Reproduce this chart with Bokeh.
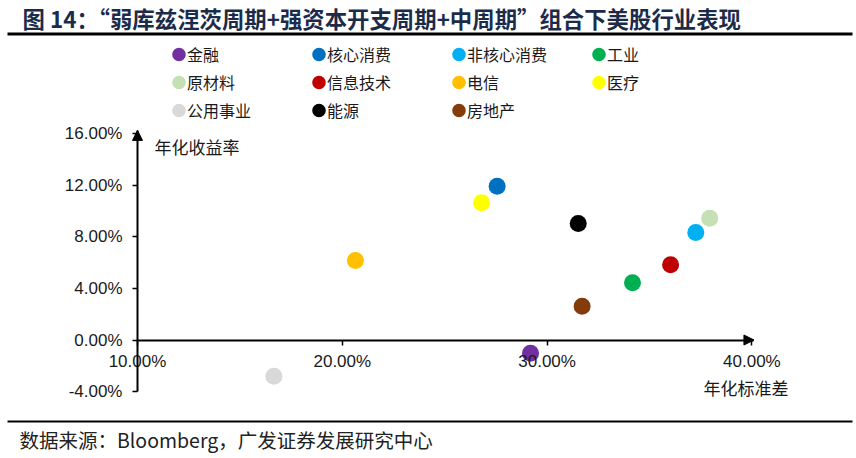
from bokeh.plotting import figure
from bokeh.models import (Legend, LegendItem, Label, BoxAnnotation, Arrow, NormalHead,
                          FixedTicker, PrintfTickFormatter, ColumnDataSource, Range1d)
from bokeh.embed import file_html
from bokeh.resources import INLINE

# ---------------- data ----------------
sectors = ["金融", "核心消费", "非核心消费", "工业", "原材料", "信息技术",
           "电信", "医疗", "公用事业", "能源", "房地产"]
vol = [29.19, 27.56, 37.26, 34.17, 37.94, 36.03, 20.64, 26.80, 16.66, 31.52, 31.71]   # 年化标准差 (%)
ret = [-1.02, 11.92, 8.33, 4.43, 9.44, 5.83, 6.16, 10.64, -2.81, 9.03, 2.62]          # 年化收益率 (%)
colors = ["#7030A0", "#0070C0", "#00B0F0", "#00B050", "#C5E0B4", "#C00000",
          "#FFC000", "#FFFF00", "#D9D9D9", "#000000", "#843C0C"]
x_ticks = [10, 20, 30, 40]
y_ticks = [-4, 0, 4, 8, 12, 16]

title_text = "图 14：“弱库兹涅茨周期+强资本开支周期+中周期”组合下美股行业表现"
source_text = "数据来源：Bloomberg，广发证券发展研究中心"
x_title = "年化标准差"
y_title = "年化收益率"

# ---------------- layout helpers (pixel -> data) ----------------
W, H = 856, 458
PX_X10, PPX = 137.0, 20.48     # pixel of x=10%, pixels per 1% in x
PX_Y0, PPY = 339.5, 12.9       # pixel of y=0%, pixels per 1% in y


def dx(px):
    return x_ticks[0] + (px - PX_X10) / PPX


def dy(py):
    return (PX_Y0 - py) / PPY


X_END = 40.1
Y_END = 16.25

p = figure(output_backend="svg", toolbar_location=None, width=W, height=H,
           min_border=0, min_border_left=0, min_border_right=0,
           min_border_top=0, min_border_bottom=0,
           x_range=Range1d(dx(0), dx(W)), y_range=Range1d(dy(H), dy(0)),
           background_fill_color="white", border_fill_color="white")
p.outline_line_color = None
p.grid.visible = False

CJK = "Noto Sans CJK SC"
LAT = "Liberation Sans"

for ax in (p.xaxis[0], p.yaxis[0]):
    ax.axis_line_width = 2
    ax.axis_line_color = "black"
    ax.major_tick_line_color = "black"
    ax.major_tick_line_width = 1.5
    ax.major_tick_in = 0
    ax.major_tick_out = 5
    ax.minor_tick_line_color = None
    ax.major_label_text_font = LAT
    ax.major_label_text_font_size = "17px"
    ax.major_label_text_color = "#1a1a1a"
    ax.formatter = PrintfTickFormatter(format="%.2f%%")

p.xaxis.ticker = FixedTicker(ticks=x_ticks)
p.yaxis.ticker = FixedTicker(ticks=y_ticks)
p.xaxis.fixed_location = 0
p.yaxis.fixed_location = x_ticks[0]
p.xaxis.bounds = (x_ticks[0], X_END)
p.yaxis.bounds = (y_ticks[0], Y_END)
p.xaxis.major_label_standoff = 7
p.yaxis.major_label_standoff = 10

# axis arrows
p.add_layout(Arrow(end=NormalHead(size=10, fill_color="black", line_color="black"),
                   x_start=x_ticks[0], y_start=y_ticks[-1], x_end=x_ticks[0], y_end=Y_END,
                   line_width=2, line_color="black"))
p.add_layout(Arrow(end=NormalHead(size=10, fill_color="black", line_color="black"),
                   x_start=x_ticks[-1], y_start=0, x_end=X_END, y_end=0,
                   line_width=2, line_color="black"))

# points
src = ColumnDataSource(dict(x=vol, y=ret, c=colors, s=sectors))
r = p.ellipse("x", "y", source=src, width=17, height=17,
              width_units="screen", height_units="screen",
              fill_color="c", line_color=None)

# legend
items = [LegendItem(label=s, renderers=[r], index=i) for i, s in enumerate(sectors)]
legend = Legend(items=items, ncols=4, orientation="horizontal",
                location=(170, H - 122),
                glyph_width=17, glyph_height=20, spacing=4, label_standoff=0,
                label_width=119, label_height=20, padding=0, margin=0,
                border_line_color=None, background_fill_alpha=0,
                label_text_font=CJK, label_text_font_size="16px",
                label_text_color="#1a1a1a")
p.add_layout(legend, "center")

# axis titles
p.add_layout(Label(x=x_ticks[0], y=y_ticks[-1], x_offset=17, y_offset=-13, text=y_title,
                   text_font=CJK, text_font_size="17px", text_color="#1a1a1a",
                   text_baseline="middle", text_align="left"))
p.add_layout(Label(x=x_ticks[-1], y=0, x_offset=-6, y_offset=-47, text=x_title,
                   text_font=CJK, text_font_size="17px", text_color="#1a1a1a",
                   text_baseline="middle", text_align="center"))

# title, rules and source
p.add_layout(Label(x=dx(22), y=dy(17), text=title_text,
                   text_font=CJK, text_font_size="22.4px", text_font_style="bold",
                   text_color="#1c2b4a", text_baseline="middle", text_align="left"))
p.add_layout(BoxAnnotation(left=dx(7), right=dx(852), top=dy(32), bottom=dy(35),
                           fill_color="black", fill_alpha=1, line_color=None))
p.add_layout(BoxAnnotation(left=dx(7), right=dx(852), top=dy(420), bottom=dy(422),
                           fill_color="black", fill_alpha=1, line_color=None))
p.add_layout(Label(x=dx(19), y=dy(439), text=source_text,
                   text_font=CJK, text_font_size="19.5px", text_color="#222222",
                   text_baseline="middle", text_align="left"))

open("out.html", "w").write(file_html(p, INLINE))
